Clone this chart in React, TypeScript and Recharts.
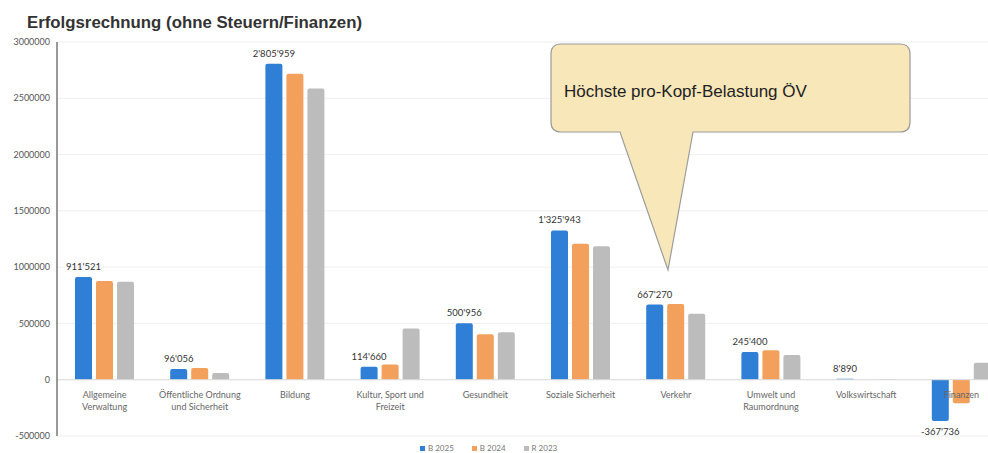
import React from 'react';
import {
  BarChart,
  Bar,
  XAxis,
  YAxis,
  CartesianGrid,
  ReferenceLine,
  LabelList,
  Customized,
} from 'recharts';

// Kategorien (Zeilenumbruch wie im Original)
const categories = [
  'Allgemeine\nVerwaltung',
  'Öffentliche Ordnung\nund Sicherheit',
  'Bildung',
  'Kultur, Sport und\nFreizeit',
  'Gesundheit',
  'Soziale Sicherheit',
  'Verkehr',
  'Umwelt und\nRaumordnung',
  'Volkswirtschaft',
  'Finanzen',
];

const b2025 = [911521, 96056, 2805959, 114660, 500956, 1325943, 667270, 245400, 8890, -367736];
const b2024 = [876000, 105000, 2717000, 135000, 403000, 1207000, 672000, 262000, 0, -210000];
const r2023 = [870000, 60000, 2586000, 455000, 421000, 1186000, 585000, 220000, 5000, 150000];

const yTicks = [-500000, 0, 500000, 1000000, 1500000, 2000000, 2500000, 3000000];

const seriesNames = ['B 2025', 'B 2024', 'R 2023'];
const colors = ['#2f7fd6', '#f2a05c', '#bcbcbc'];

const data = categories.map((c, i) => ({
  name: c,
  b2025: b2025[i],
  b2024: b2024[i],
  r2023: r2023[i],
}));

const swiss = (v: number) => {
  const s = Math.abs(Math.round(v)).toString().replace(/\B(?=(\d{3})+(?!\d))/g, "'");
  return (v < 0 ? '-' : '') + s;
};

const CategoryTick = (props: any) => {
  const { x, y, payload } = props;
  const lines = String(payload.value).split('\n');
  return (
    <text x={x} y={y - 38} textAnchor="middle" fontSize={9} fill="#666" fontFamily="Lato, sans-serif">
      {lines.map((l, i) => (
        <tspan key={i} x={x} dy={i === 0 ? 0 : 12}>
          {l}
        </tspan>
      ))}
    </text>
  );
};

const Callout = () => {
  const L = 551, R = 910, T = 44, B = 132, r = 10;
  const d = `M ${L + r} ${T} H ${R - r} Q ${R} ${T} ${R} ${T + r} V ${B - r} Q ${R} ${B} ${R - r} ${B} H 693 L 668 270 L 620 ${B} H ${L + r} Q ${L} ${B} ${L} ${B - r} V ${T + r} Q ${L} ${T} ${L + r} ${T} Z`;
  return (
    <g>
      <text
        x={27}
        y={28}
        fontSize={16}
        fontWeight="bold"
        fill="#333"
        fontFamily="'Liberation Sans', Arial, sans-serif"
        textLength={335}
        lengthAdjust="spacingAndGlyphs"
      >
        Erfolgsrechnung (ohne Steuern/Finanzen)
      </text>
      <path d={d} fill="#f7e7b9" stroke="#9c9c9c" strokeWidth={1.2} />
      <text x={564} y={97} fontSize={17} fill="#222" fontFamily="'Liberation Sans', Arial, sans-serif">
        Höchste pro-Kopf-Belastung  ÖV
      </text>
    </g>
  );
};

export default function App() {
  return (
    <div
      style={{
        position: 'fixed',
        left: 0,
        top: 0,
        width: 988,
        height: 453,
        overflow: 'hidden',
        background: '#fff',
      }}
    >
      <BarChart
        width={1030}
        height={453}
        data={data}
        margin={{ top: 42, right: 21, bottom: 0, left: 0 }}
        barGap={4}
        barSize={17}
      >
        <CartesianGrid vertical={false} stroke="#efefef" />
        <XAxis
          dataKey="name"
          height={17}
          axisLine={false}
          tickLine={false}
          tickSize={0}
          tickMargin={0}
          interval={0}
          tick={<CategoryTick />}
        />
        <YAxis
          width={57}
          domain={[-500000, 3000000]}
          ticks={yTicks}
          interval={0}
          tickLine={false}
          tickSize={0}
          tickMargin={7}
          axisLine={{ stroke: '#555', strokeWidth: 1.2 }}
          tick={{ fontSize: 9, fill: '#555', fontFamily: 'Lato, sans-serif' }}
        />
        <ReferenceLine y={0} stroke="#dcdcdc" />
        <Bar dataKey="b2025" name={seriesNames[0]} fill={colors[0]} radius={[2, 2, 0, 0]} isAnimationActive={false}>
          <LabelList
            dataKey="b2025"
            position="top"
            offset={7}
            formatter={(v: any) => swiss(Number(v))}
            style={{ fontSize: 9.5, fill: '#333', fontFamily: 'Lato, sans-serif' }}
          />
        </Bar>
        <Bar dataKey="b2024" name={seriesNames[1]} fill={colors[1]} radius={[2, 2, 0, 0]} isAnimationActive={false} />
        <Bar dataKey="r2023" name={seriesNames[2]} fill={colors[2]} radius={[2, 2, 0, 0]} isAnimationActive={false} />
        <Customized component={Callout} />
      </BarChart>
      <div
        style={{
          position: 'absolute',
          left: 420,
          top: 443,
          display: 'flex',
          gap: 18,
          fontSize: 8,
          color: '#777',
          fontFamily: 'Lato, sans-serif',
          lineHeight: '10px',
        }}
      >
        {seriesNames.map((n, i) => (
          <span key={n} style={{ display: 'flex', alignItems: 'center' }}>
            <span style={{ display: 'inline-block', width: 5, height: 5, background: colors[i], marginRight: 3 }} />
            {n}
          </span>
        ))}
      </div>
    </div>
  );
}
